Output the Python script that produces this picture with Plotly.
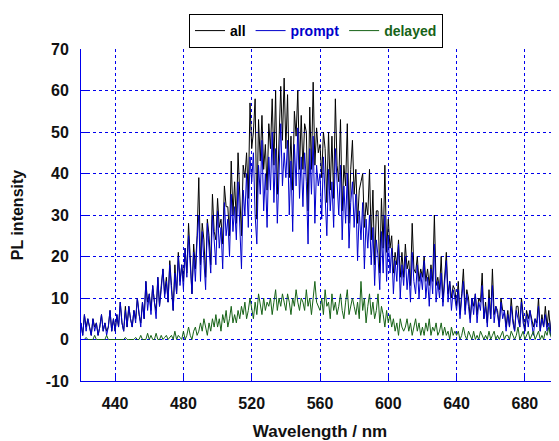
import plotly.graph_objects as go

wavelength = list(range(420, 701))

prompt = [
    4, 1, 6, 2, 5, 3, 1, 5, 2, 4,
    1, 3, 6, 2, 4, 1, 3, 7, 2, 5,
    2, 6, 3, 9, 4, 2, 7, 3, 8, 5,
    3, 7, 4, 10, 6, 3, 9, 5, 14, 7,
    11, 6, 13, 9, 5, 15, 8, 12, 17, 10,
    14, 9, 18, 12, 7, 16, 11, 20, 13, 18,
    12, 22, 15, 25, 17, 11, 21, 14, 24, 30,
    14, 26, 19, 12, 28, 21, 16, 30, 23, 18,
    31, 22, 27, 17, 33, 25, 29, 20, 35, 26,
    32, 24, 38, 28, 17, 36, 30, 40, 27, 44,
    38, 45, 30, 23, 42, 35, 48, 31, 40, 27,
    44, 36, 50, 33, 46, 28, 41, 52, 37, 45,
    39, 48, 30, 43, 26, 47, 37, 51, 34, 44,
    32, 45, 38, 23, 46, 35, 49, 28, 42, 37,
    40, 29, 44, 34, 25, 41, 31, 38, 27, 46,
    36, 30, 42, 24, 37, 28, 40, 22, 33, 38,
    27, 35, 19, 31, 24, 33, 17, 29, 22, 30,
    18, 27, 13, 24, 20, 12, 26, 16, 30, 14,
    25, 16, 22, 11, 19, 14, 23, 10, 18, 13,
    20, 12, 17, 9, 21, 14, 11, 18, 10, 16,
    12, 19, 10, 15, 8, 17, 11, 23, 9, 14,
    10, 16, 8, 13, 19, 9, 14, 7, 12, 10,
    7, 12, 5, 10, 14, 6, 11, 8, 4, 10,
    6, 11, 4, 9, 7, 13, 5, 8, 3, 10,
    5, 13, 4, 8, 6, 3, 9, 5, 7, 2,
    6, 3, 8, 4, 2, 7, 5, 3, 9, 4,
    2, 6, 3, 7, 4, 1, 5, 3, 8, 2,
    5, 3, 6, 2, 4, 1, 7, 3, 5, 2,
    4,
]

delayed = [
    0, 0, 0, 0.5, 0, 0, 0, 0, 1, 0,
    0, 0, 0, 0, 0, 1, 0, 0, 0, 0,
    0, 0, 0, 0, 0, 0, 0.5, 0, 0, 0,
    0, 0, 0.5, 0, 0, 1, 0, 0, 0, 1.5,
    0, 1, 0, 0, 1.5, 0, 0, 1, 0, 0.5,
    1, 0, 0.5, 1, 0, 2, 0, 1, 0.5, 0,
    2, 0, 1, 3, 1, 0, 2, 3, 1, 2,
    4, 2, 5, 3, 1, 4, 2, 5, 3, 6,
    3, 5, 2, 6, 4, 7, 3, 5, 8, 4,
    6, 4, 7, 5, 8, 6, 9, 5, 7, 10,
    7, 5, 9, 6, 11, 8, 6, 10, 7, 9,
    8, 10, 6, 9, 12, 7, 10, 8, 11, 9,
    7, 11, 9, 6, 10, 8, 12, 9, 7, 10,
    9, 7, 12, 8, 10, 6, 11, 14, 9, 8,
    7, 10, 6, 12, 8, 9, 5, 11, 7, 9,
    6, 8, 11, 7, 5, 9, 12, 6, 8, 10,
    8, 6, 9, 5, 14, 7, 10, 4, 8, 11,
    6, 9, 5, 7, 11, 4, 8, 6, 3, 7,
    4, 6, 3, 5, 2, 4, 1, 5, 3, 2,
    3, 5, 2, 4, 1, 3, 5, 2, 4, 1,
    3, 1, 4, 2, 5, 1, 3, 2, 4, 1,
    2, 4, 1, 3, 1, 2, 0, 3, 1, 2,
    1, 2, 0, 1, 3, 1, 0, 2, 1, 0,
    2, 0, 1, 0, 2, 1, 0, 1, 0, 2,
    0, 1, 2, 0, 1, 0, 1, 2, 0, 1,
    1, 0, 2, 1, 0, 1, 3, 0, 1, 2,
    0, 1, 2, 0, 1, 2, 0, 1, 2, 0,
    1, 0, 2, 1, 3, 1, 0, 2, 1, 0,
    1,
]

all_signal = [
    4, 1, 6, 3, 5, 3, 1, 5, 3, 4,
    1, 3, 6, 2, 4, 2, 3, 7, 2, 5,
    2, 6, 3, 9, 4, 2, 8, 3, 8, 5,
    3, 7, 5, 10, 6, 4, 9, 5, 14, 9,
    11, 7, 13, 9, 7, 15, 8, 13, 17, 11,
    15, 9, 19, 13, 7, 18, 11, 21, 14, 18,
    14, 22, 16, 28, 18, 11, 23, 17, 25, 39,
    18, 28, 24, 15, 29, 25, 18, 35, 26, 24,
    34, 27, 29, 23, 37, 32, 32, 25, 43, 30,
    38, 28, 45, 33, 25, 42, 39, 45, 34, 57,
    46, 50, 58, 29, 53, 43, 54, 41, 47, 36,
    52, 46, 58, 42, 60, 35, 51, 61, 48, 63,
    46, 59, 39, 49, 36, 55, 49, 60, 41, 54,
    41, 52, 50, 31, 56, 41, 62, 42, 51, 45,
    47, 39, 50, 46, 33, 50, 36, 49, 34, 58,
    42, 38, 53, 31, 42, 37, 52, 28, 41, 48,
    35, 41, 28, 36, 38, 40, 27, 33, 30, 41,
    24, 36, 18, 31, 31, 16, 34, 22, 42, 21,
    29, 22, 25, 16, 21, 18, 24, 15, 21, 15,
    23, 17, 19, 13, 28, 17, 16, 20, 14, 17,
    15, 20, 14, 17, 13, 18, 14, 30, 13, 15,
    12, 20, 9, 16, 21, 11, 14, 10, 13, 12,
    8, 14, 6, 11, 17, 7, 12, 10, 5, 10,
    8, 11, 6, 10, 9, 16, 5, 9, 4, 12,
    5, 17, 6, 8, 7, 3, 10, 7, 7, 3,
    7, 3, 10, 5, 2, 8, 8, 3, 10, 6,
    2, 7, 5, 7, 5, 3, 5, 4, 10, 2,
    6, 3, 8, 3, 7, 2, 7, 5, 6, 2,
    5,
]

x_ticks = [440, 480, 520, 560, 600, 640, 680]
y_ticks = [-10, 0, 10, 20, 30, 40, 50, 60, 70]

C_ALL = "#000000"
C_PROMPT = "#0000cc"
C_DELAYED = "#176317"
AX = "#0000ee"
FONT = "Liberation Sans, Arial, sans-serif"

fig = go.Figure()
fig.add_trace(go.Scatter(x=wavelength, y=all_signal, mode="lines",
                         line=dict(color=C_ALL, width=1),
                         name="<span style='color:#000000'>all</span>"))
fig.add_trace(go.Scatter(x=wavelength, y=prompt, mode="lines",
                         line=dict(color=C_PROMPT, width=1),
                         name="<span style='color:#0000cc'>prompt</span>"))
fig.add_trace(go.Scatter(x=wavelength, y=delayed, mode="lines",
                         line=dict(color=C_DELAYED, width=1),
                         name="<span style='color:#176317'>delayed</span>"))

# legend shadow
fig.add_shape(type="rect", xref="paper", yref="paper",
              x0=(192 - 81) / 478, x1=(441 - 81) / 478,
              y0=(381 - 46) / 332, y1=(381 - 17) / 332,
              fillcolor="#888888", line=dict(width=0), layer="below")

axis_common = dict(
    showline=True, linecolor=AX, linewidth=1,
    ticks="inside", ticklen=6, tickcolor=AX, tickwidth=1,
    showgrid=True, gridcolor=AX, gridwidth=1, griddash="dot",
    zeroline=False, automargin=False, ticklabelstandoff=8,
    tickfont=dict(family=FONT, size=16, color="#111111", weight="bold"),
)

fig.update_xaxes(range=[420, 700], tickvals=x_ticks, ticktext=[str(v) for v in x_ticks],
                 title_text="Wavelength / nm", title_standoff=16,
                 title_font=dict(family=FONT, size=17, color="#111111", weight="bold"),
                 **axis_common)
fig.update_yaxes(range=[-10, 70], tickvals=y_ticks, ticktext=[str(v) for v in y_ticks],
                 title_text="PL intensity", title_standoff=18,
                 title_font=dict(family=FONT, size=16, color="#111111", weight="bold"),
                 **axis_common)

# page body has an 8px margin, so the figure is offset by 8px
fig.update_layout(
    width=551, height=433,
    margin=dict(l=73, r=0, t=41, b=60, autoexpand=False),
    plot_bgcolor="white", paper_bgcolor="white",
    showlegend=True,
    legend=dict(orientation="h", x=(189 - 81) / 478, y=(381 - 14) / 332,
                xanchor="left", yanchor="top",
                bgcolor="white", bordercolor="#000000", borderwidth=1,
                font=dict(family=FONT, size=14, weight="bold"),
                itemwidth=30, tracegroupgap=0),
)

fig.write_html("out.html")
